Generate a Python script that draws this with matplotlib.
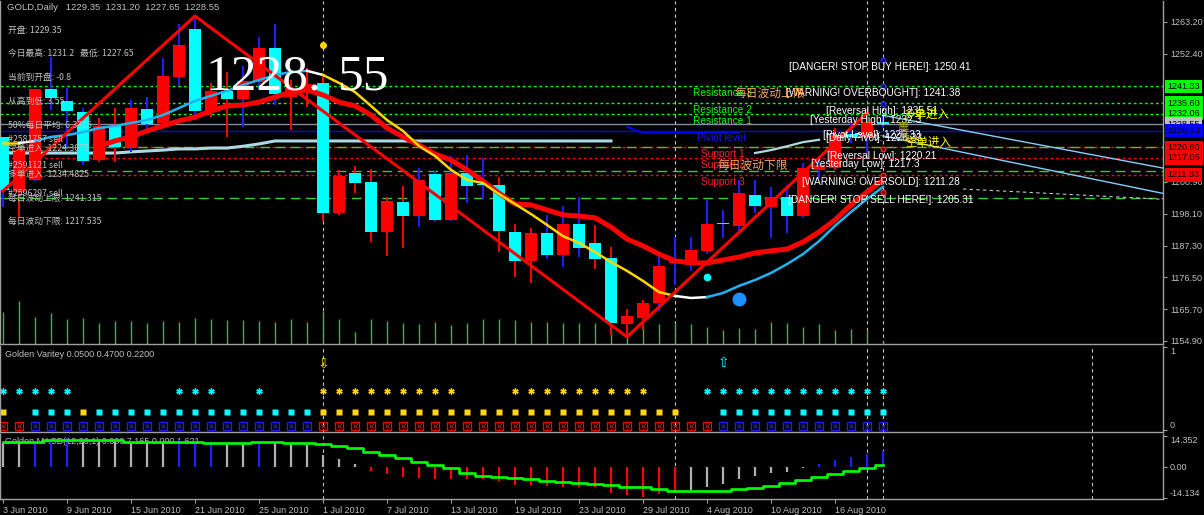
import numpy as np
import matplotlib
matplotlib.use('Agg')
import matplotlib.pyplot as plt
from matplotlib.transforms import blended_transform_factory

plt.rcParams['font.family'] = ['Liberation Sans', 'Noto Sans CJK SC', 'DejaVu Sans']
CJK = ['Noto Sans CJK SC', 'DejaVu Sans']

# ---------------- data ----------------
dates = ['3 Jun 2010', '9 Jun 2010', '15 Jun 2010', '21 Jun 2010', '25 Jun 2010',
         '1 Jul 2010', '7 Jul 2010', '13 Jul 2010', '19 Jul 2010', '23 Jul 2010',
         '29 Jul 2010', '4 Aug 2010', '10 Aug 2010', '16 Aug 2010']
date_pos = [0, 4, 8, 12, 16, 20, 24, 28, 32, 36, 40, 44, 48, 52]

opens = [1224.2, 1205.5, 1209.5, 1240.4, 1236.4, 1232.6, 1216.3, 1227.9, 1220.4, 1233.7,
         1228.9, 1244.5, 1260.8, 1232.6, 1239.8, 1237.0, 1242.8, 1254.4, 1237.7, 1240.8,
         1242.5, 1198.4, 1211.9, 1208.9, 1191.9, 1202.1, 1197.3, 1211.6, 1196.0, 1211.9,
         1207.9, 1207.8, 1191.9, 1182.0, 1191.6, 1184.1, 1194.6, 1188.2, 1183.1, 1160.7,
         1162.7, 1167.8, 1181.4, 1181.4, 1185.5, 1194.7, 1193.9, 1204.5, 1200.4, 1203.8,
         1197.3, 1212.9, 1213.6, 1225.2, 1224.2, 1229.35]
highs = [1224.2, 1219.9, 1240.6, 1251.3, 1240.8, 1234.0, 1230.6, 1234.0, 1236.7, 1237.7,
         1251.0, 1262.5, 1265.2, 1242.5, 1246.2, 1248.3, 1258.1, 1262.5, 1243.5, 1247.6,
         1244.5, 1212.9, 1214.3, 1213.3, 1203.8, 1207.5, 1213.6, 1212.6, 1217.7, 1218.0,
         1217.0, 1210.6, 1194.6, 1193.3, 1197.7, 1200.7, 1203.8, 1194.3, 1186.8, 1165.8,
         1168.8, 1183.4, 1190.2, 1190.2, 1202.8, 1199.4, 1209.5, 1209.5, 1207.2, 1207.9,
         1215.3, 1217.4, 1227.2, 1228.9, 1232.3, 1231.2]
lows = [1200.4, 1196.7, 1209.3, 1233.3, 1220.7, 1214.6, 1215.7, 1215.7, 1219.0, 1226.5,
        1228.2, 1241.5, 1230.6, 1230.9, 1224.2, 1227.5, 1240.4, 1235.0, 1226.5, 1234.3,
        1195.6, 1197.7, 1205.1, 1188.5, 1183.8, 1186.5, 1193.6, 1195.3, 1195.6, 1201.7,
        1203.1, 1185.1, 1176.6, 1174.6, 1182.7, 1180.0, 1183.4, 1179.3, 1156.9, 1156.3,
        1158.6, 1165.1, 1173.9, 1178.7, 1184.4, 1189.9, 1191.9, 1198.4, 1189.9, 1191.6,
        1196.7, 1210.2, 1212.9, 1222.1, 1217.3, 1227.65]
closes = [1206.2, 1219.7, 1240.4, 1237.4, 1233.0, 1216.0, 1227.9, 1220.8, 1234.0, 1228.6,
          1244.9, 1255.4, 1233.0, 1239.8, 1237.0, 1243.2, 1254.4, 1238.7, 1240.8, 1242.1,
          1198.4, 1210.9, 1208.5, 1191.9, 1202.4, 1197.3, 1209.5, 1196.0, 1211.9, 1207.5,
          1207.7, 1192.2, 1182.0, 1191.6, 1184.1, 1194.6, 1186.5, 1182.7, 1161.0, 1163.4,
          1167.8, 1180.4, 1182.7, 1185.8, 1194.6, 1194.5, 1205.1, 1200.7, 1203.8, 1197.3,
          1213.6, 1214.6, 1224.8, 1224.2, 1229.2, 1228.55]
wick_kind = 'brbbbbrrbbbbbrrbbbrrrrrrrrbbbbbrrrbbbrrrrbbbbbbbbbbbrbbb'
volumes = [32, 43, 27, 31, 25, 26, 21, 23, 23, 21, 23, 22, 26, 25, 24, 24, 23, 22, 25, 22,
           33, 25, 12, 25, 23, 21, 20, 22, 19, 21, 25, 25, 24, 22, 22, 21, 21, 21, 21, 17,
           20, 20, 21, 20, 17, 14, 16, 15, 22, 21, 17, 20, 14, 15, 14, 3]

ma_red_start = 6
ma_red = [1221.1, 1222.8, 1224.2, 1226.2, 1227.9, 1229.6, 1230.9, 1233.0, 1234.7, 1235.0,
          1236.0, 1237.7, 1239.4, 1240.1, 1238.4, 1236.0, 1234.7, 1231.6, 1227.2, 1224.2,
          1221.4, 1218.4, 1216.3, 1213.0, 1209.2, 1205.1, 1201.4, 1201.1, 1199.4, 1197.7,
          1197.3, 1196.7, 1193.6, 1189.5, 1187.2, 1184.4, 1182.1, 1181.4, 1181.4, 1182.4,
          1183.4, 1184.8, 1185.5, 1186.1, 1188.5, 1191.9, 1196.0, 1201.1, 1205.5, 1209.6]
ma_trend = [1222.1, 1222.1, 1222.8, 1224.2, 1224.8, 1225.8, 1227.2, 1227.9, 1228.9, 1229.9,
            1231.6, 1234.0, 1236.4, 1238.1, 1239.8, 1241.8, 1243.5, 1245.2, 1246.2, 1246.6,
            1245.2, 1242.5, 1239.4, 1234.7, 1229.9, 1226.2, 1221.1, 1217.7, 1213.0, 1209.6,
            1208.5, 1204.8, 1201.4, 1198.0, 1194.3, 1190.5, 1188.2, 1185.1, 1181.7, 1178.7,
            1175.3, 1171.5, 1170.2, 1169.5, 1169.8, 1171.2, 1173.6, 1175.6, 1178.0, 1181.0,
            1184.4, 1188.8, 1194.0, 1198.7, 1203.1, 1207.2]
trend_segments = [(0, 1, '#ffd700'), (1, 2, 'white'), (2, 19, '#1eb4f0'), (19, 20, 'white'),
                  (20, 42, '#ffd700'), (42, 44, 'white'), (44, 55, '#1eb4f0')]

zig_idx = [0, 12, 39, 54]
zig_val = [1205.8, 1265.2, 1156.3, 1232.3]

avg_line = [1218.7] * 8 + [1219.1, 1219.4, 1219.7, 1220.1, 1220.1, 1220.4, 1220.4,
                          1221.0, 1221.8] + [1222.8] * 22
pivot_seg_start = 39
pivot_seg = [1227.6, 1225.5, 1225.5, 1225.5, 1225.5, 1225.5, 1225.5, 1225.5]
rise_seg_start = 47
rise_seg = [1218.7, 1219.7, 1221.0, 1222.4, 1223.2]

bid = 1228.55
pivot = 1226.33
resistances = [1241.33, 1235.60, 1232.06]
supports = [1220.60, 1217.06, 1211.33]
band_lines = [1220.8, 1212.6, 1203.4]
pivot_marks_hi = [1250.41, 1241.38, 1235.51]
pivot_marks_lo = [1220.21, 1211.28, 1205.31]

price_ticks = [1263.20, 1252.40, 1208.90, 1198.10, 1187.30, 1176.50, 1165.70, 1154.90]
axis_boxes = [('1241.33', 1241.33, '#00ff00'), ('1235.60', 1235.60, '#00ff00'),
              ('1232.06', 1232.06, '#00ff00'), ('1228.55', 1228.55, '#c0c0c0'),
              ('1226.33', 1226.33, '#0000ff'), ('1220.60', 1220.60, '#ff0000'),
              ('1217.06', 1217.06, '#ff0000'), ('1211.33', 1211.33, '#ff0000')]

star_cyan = [0, 1, 2, 3, 4, 11, 12, 13, 16] + list(range(44, 56))
star_yellow = list(range(20, 29)) + list(range(32, 41))
sq_cyan = [2, 3, 4] + list(range(6, 20)) + list(range(45, 56))
sq_yellow = [0, 5] + list(range(20, 43))
box_red = [0, 1] + list(range(20, 45))
box_blue = list(range(2, 20)) + list(range(45, 56))
row_levels = [0.47, 0.22, 0.05]

macd_hist = [11.2, 11.6, 11.6, 12.4, 13.1, 11.6, 11.6, 11.6, 11.6, 11.2,
             10.9, 12.4, 10.9, 11.6, 10.9, 10.9, 11.5, 11.5, 10.6, 9.9,
             5.5, 3.7, 1.4, -1.8, -3.2, -4.4, -5.0, -5.7, -5.7, -5.7,
             -5.4, -6.3, -8.3, -8.3, -8.7, -9.0, -9.0, -9.3, -11.8, -13.0,
             -13.6, -12.5, -12.1, -10.6, -9.0, -7.8, -5.5, -4.0, -2.9, -2.1,
             -0.3, 1.4, 3.2, 4.4, 6.0, 7.3]
macd_kind = 'ggbbbggggggbbbggbgggggg' + 'r' * 20 + 'g' * 8 + 'b' * 5
macd_signal = [11.3, 11.3, 11.3, 12.4, 12.4, 12.4, 12.4, 12.4, 11.6, 11.6,
               11.6, 11.6, 11.6, 10.9, 10.9, 10.9, 11.6, 11.6, 10.9, 10.9,
               10.6, 9.8, 8.6, 7.0, 5.5, 4.0, 2.4, 0.9, -0.6, -2.9,
               -4.0, -4.4, -5.2, -5.7, -6.3, -6.7, -7.2, -7.8, -8.3, -9.0,
               -9.3, -10.2, -10.9, -10.9, -10.9, -10.9, -10.1, -9.8, -8.6, -7.2,
               -6.0, -4.4, -3.2, -1.8, -0.6, 0.9]

# ---------------- layout ----------------
W, H = 1204, 515
BG = 'black'
GRID = '#a0a0a0'
TXT = '#c0c0c0'

fig = plt.figure(figsize=(W / 100, H / 100), dpi=100, facecolor=BG)


def rect(l, t, r, b):
    return [l / W, 1 - b / H, (r - l) / W, (b - t) / H]


def ftext(x, y, s, **kw):
    kw.setdefault('color', TXT)
    kw.setdefault('fontsize', 6.5)
    fig.text(x / W, 1 - y / H, s, va='center', ha=kw.pop('ha', 'left'), **kw)


xlim = (-0.1875, 72.5)
ax = fig.add_axes(rect(0, 1, 1163, 344))
ax2 = fig.add_axes(rect(0, 346, 1163, 432))
ax3 = fig.add_axes(rect(0, 434, 1163, 499))
for a in (ax, ax2, ax3):
    a.set_facecolor(BG)
    a.set_xlim(*xlim)
    for s in a.spines.values():
        s.set_color(GRID)
        s.set_linewidth(1)
    a.spines['top'].set_visible(False)
    a.yaxis.tick_right()
    a.tick_params(axis='y', colors=GRID, labelcolor=TXT, labelsize=6.5, length=3, pad=2)
    a.tick_params(axis='x', colors=GRID, length=0)
    a.set_xticks([])

ax.set_ylim(1153.88, 1270.31)
ax2.set_ylim(-0.022, 1.01)
ax3.set_ylim(-14.7, 15.1)

n = len(opens)
x = np.arange(n)
o = np.array(opens); c = np.array(closes)
hi = np.array(highs); lo = np.array(lows)

# vertical dotted lines
for a in (ax, ax2, ax3):
    for v in (20, 42, 54, 55):
        a.axvline(v, color='#c8c8c8', lw=0.8, ls=(0, (3, 3)), zorder=1)
for a in (ax2, ax3):
    a.axvline(68.06, color='#c8c8c8', lw=0.8, ls=(0, (3, 3)), zorder=1)

# volumes
vtrans = blended_transform_factory(ax.transData, ax.transAxes)
ax.vlines(x, 0, np.array(volumes) / 343.0, color='#3fb33f', lw=1.0, transform=vtrans, zorder=1)

# horizontal levels
ax.axhline(bid, color='#8090a0', lw=1, zorder=2)
ax.axhline(pivot, color='#0000ff', lw=1, zorder=2)
for r in resistances:
    ax.axhline(r, color='#00ff00', lw=1, ls=(0, (2, 2)), zorder=2)
for s in supports:
    ax.axhline(s, color='#ff0000', lw=1, ls=(0, (2, 2)), zorder=2)
for b in band_lines:
    ax.axhline(b, color='#32cd32', lw=1, ls=(0, (7, 4)), zorder=2)

ax.plot(np.arange(len(avg_line)), avg_line, color='#add8e6', lw=2.2, zorder=3)
ax.plot(np.arange(len(pivot_seg)) + pivot_seg_start, pivot_seg, color='#0000e0', lw=1.6, zorder=3)
ax.plot(np.arange(len(rise_seg)) + rise_seg_start, rise_seg, color='#add8e6', lw=1.6, zorder=3)

# right side channel lines (projection beyond last bar)
ax.plot([55, 72.5], [1231.5, 1213.6], color='#87cefa', lw=1.0, zorder=3)
ax.plot([55, 72.5], [1224.5, 1205.0], color='#87cefa', lw=1.0, zorder=3)
ax.plot([60, 72.5], [1206.5, 1203.0], color='#c8c8c8', lw=0.8, ls=(0, (3, 3)), zorder=3)

# big price text (behind candles)
ftext(206, 77, '1228.', color='white', fontsize=37, family=['Liberation Serif'], zorder=2)
ftext(338, 77, '55', color='white', fontsize=37, family=['Liberation Serif'], zorder=2)

# candles
bull = c >= o
wick_col = ['#ff0000' if k == 'r' else '#2020ff' for k in wick_kind]
ax.vlines(x, lo, hi, color=wick_col, lw=1.4, zorder=4)
body_h = np.maximum(np.abs(c - o), 0.35)
body_b = np.minimum(o, c)
ax.bar(x, body_h, bottom=body_b, width=0.69, color=np.where(bull, '#ff0000', '#00ffff'),
       edgecolor='none', zorder=5)

# moving averages and zigzag
xr = np.arange(len(ma_red)) + ma_red_start
ax.plot(xr, ma_red, color='#ff0000', lw=3.6, zorder=6, solid_capstyle='butt')
for s0, s1, col in trend_segments:
    ax.plot(x[s0:s1 + 1], ma_trend[s0:s1 + 1], color=col, lw=1.8, zorder=6)
ax.plot(zig_idx, zig_val, color='#ff0000', lw=2.2, zorder=6)

ax.plot([20], [1255.4], 'o', color='#ffd700', ms=4, zorder=7)
ax.plot([44], [1176.7], 'o', color='#00ffff', ms=4.5, zorder=7)
ax.plot([46], [1169.1], 'o', color='#1e90ff', ms=9, zorder=7)
ax.plot([55] * 3, pivot_marks_hi, 'o', ms=3.5, mfc='#000080', mec='#3030ff', mew=0.8, zorder=7)
ax.plot([55] * 3, pivot_marks_lo, 'o', ms=3.5, mfc='#800000', mec='#ff3030', mew=0.8, zorder=7)

# axis labels
ax.set_yticks(price_ticks)
ax.set_yticklabels(['%.2f' % p for p in price_ticks])
btrans = blended_transform_factory(ax.transAxes, ax.transData)
for lab, pos, col in axis_boxes:
    ax.text(1.004, pos, lab, transform=btrans, fontsize=6.5, color='black', va='center',
            ha='left', clip_on=False, zorder=10,
            bbox=dict(boxstyle='square,pad=0.25', fc=col, ec='none'))

# ---------------- texts on main panel ----------------
ftext(7, 7, 'GOLD,Daily   1229.35  1231.20  1227.65  1228.55', fontsize=6.8)
left_info = [(30, '开盘: 1229.35'), (53, '今日最高: 1231.2   最低: 1227.65'),
             (77, '当前到开盘: -0.8'), (101, '从高到低: 3.55'), (125, '50%每日平均: 6.3325'),
             (140, '#2581757 sell'), (149, '空单进入: 1224.3675'), (166, '#2591121 sell'),
             (174, '多单进入: 1234.4825'), (193, '#2596297 sell'),
             (198, '每日波动上限: 1241.315'), (221, '每日波动下限: 1217.535')]
for yy, s in left_info:
    ftext(8, yy, s, family=CJK, fontsize=6.3)

WT = 'white'
ftext(789, 67, '[DANGER! STOP BUY HERE!]: 1250.41', color=WT, fontsize=7.3)
ftext(786, 93, '[WARNING! OVERBOUGHT]: 1241.38', color=WT, fontsize=7.3)
ftext(693, 93, 'Resistance 3', color='#00ff00', fontsize=7.3)
ftext(735, 93, '每日波动上限', color='#f4a460', fontsize=8.5, family=CJK)
ftext(693, 110, 'Resistance 2', color='#00ff00', fontsize=7.3)
ftext(693, 121, 'Resistance 1', color='#00ff00', fontsize=7.3)
ftext(826, 111, '[Reversal High]: 1235.51', color=WT, fontsize=7.3)
ftext(810, 120, '[Yesterday High]: 1232.3', color=WT, fontsize=7.3)
ftext(697, 138, 'Piviot level', color='#1414ff', fontsize=7.3)
ftext(823, 135, '[Pivot Level]: 1226.33', color=WT, fontsize=7.3)
ftext(826, 138, '[Daily Pivot]: 1226.33', color=WT, fontsize=7.3)
ftext(701, 154, 'Support 1', color='#ff2020', fontsize=7.3)
ftext(701, 165, 'Support 2', color='#ff2020', fontsize=7.3)
ftext(718, 165, '每日波动下限', color='#f4a460', fontsize=8.5, family=CJK)
ftext(701, 182, 'Support 3', color='#ff2020', fontsize=7.3)
ftext(827, 156, '[Reversal Low]: 1220.21', color=WT, fontsize=7.3)
ftext(811, 164, '[Yesterday Low]: 1217.3', color=WT, fontsize=7.3)
ftext(802, 182, '[WARNING! OVERSOLD]: 1211.28', color=WT, fontsize=7.3)
ftext(788, 200, '[DANGER! STOP SELL HERE!]: 1205.31', color=WT, fontsize=7.3)
ftext(903, 114, '多单进入', color='#ffff00', fontsize=8.3, family=CJK)
ftext(905, 142, '空单进入', color='#ffff00', fontsize=8.3, family=CJK)
ftext(898, 127, '震', color='#b4b400', fontsize=8, family=CJK)
ftext(898, 137, '荡', color='#b4b400', fontsize=8, family=CJK)

# ---------------- Golden Varitey panel ----------------
ax2.set_yticks([1, 0])
ax2.set_yticklabels(['1', '0'])
l2 = ax2.get_yticklabels()
l2[0].set_va('top'); l2[1].set_va('bottom')
ax2.text(0.004, 0.9, 'Golden Varitey 0.0500 0.4700 0.2200', transform=ax2.transAxes,
         color=TXT, fontsize=6.5, va='center')
ax2.plot(star_cyan, [row_levels[0]] * len(star_cyan), ls='none', marker=(6, 2, 0), ms=4.5,
         mec='#00ffff', mew=1.0)
ax2.plot(star_yellow, [row_levels[0]] * len(star_yellow), ls='none', marker=(6, 2, 0), ms=4.5,
         mec='#ffd700', mew=1.0)
ax2.plot(sq_cyan, [row_levels[1]] * len(sq_cyan), ls='none', marker='s', ms=4.6,
         mfc='#00ffff', mec='none')
ax2.plot(sq_yellow, [row_levels[1]] * len(sq_yellow), ls='none', marker='s', ms=4.6,
         mfc='#ffd700', mec='none')
for idx, col in ((box_red, '#ff0000'), (box_blue, '#2020ff')):
    ax2.plot(idx, [row_levels[2]] * len(idx), ls='none', marker='s', ms=6.2,
             mfc='none', mec=col, mew=0.9)
    ax2.plot(idx, [row_levels[2]] * len(idx), ls='none', marker='x', ms=2.4,
             mec=col, mew=0.7)
ax2.text(20, 0.806, '⇩', color='#ffd700', fontsize=10, ha='center', va='center',
         family=['DejaVu Sans'])
ax2.text(45, 0.806, '⇧', color='#00ffff', fontsize=10, ha='center', va='center',
         family=['DejaVu Sans'])

# ---------------- MACD panel ----------------
hcol = {'g': '#b0b0b0', 'b': '#1e1eff', 'r': '#ff0000'}
ax3.vlines(x, 0, macd_hist, color=[hcol[k] for k in macd_kind], lw=1.6, zorder=3)
ax3.plot(x, macd_signal, color='#00ff00', lw=1.9, drawstyle='steps-mid', zorder=4)
ax3.set_yticks([14.352, 0.0, -14.134])
ax3.set_yticklabels(['14.352', '0.00', '-14.134'])
l3 = ax3.get_yticklabels()
l3[0].set_va('top'); l3[2].set_va('bottom')
ax3.text(0.004, 0.88, 'Golden MACD(12,26,1) 0.000 7.165 0.000 1.621', transform=ax3.transAxes,
         color=TXT, fontsize=6.5, va='center', zorder=2)

ax3.set_xticks(date_pos)
ax3.set_xticklabels(dates)
ax3.tick_params(axis='x', length=3, colors=GRID, labelcolor=TXT, labelsize=6.5, pad=2)
for t in ax3.get_xticklabels():
    t.set_ha('left')

fig.savefig('out.png', dpi=100, facecolor=BG)
